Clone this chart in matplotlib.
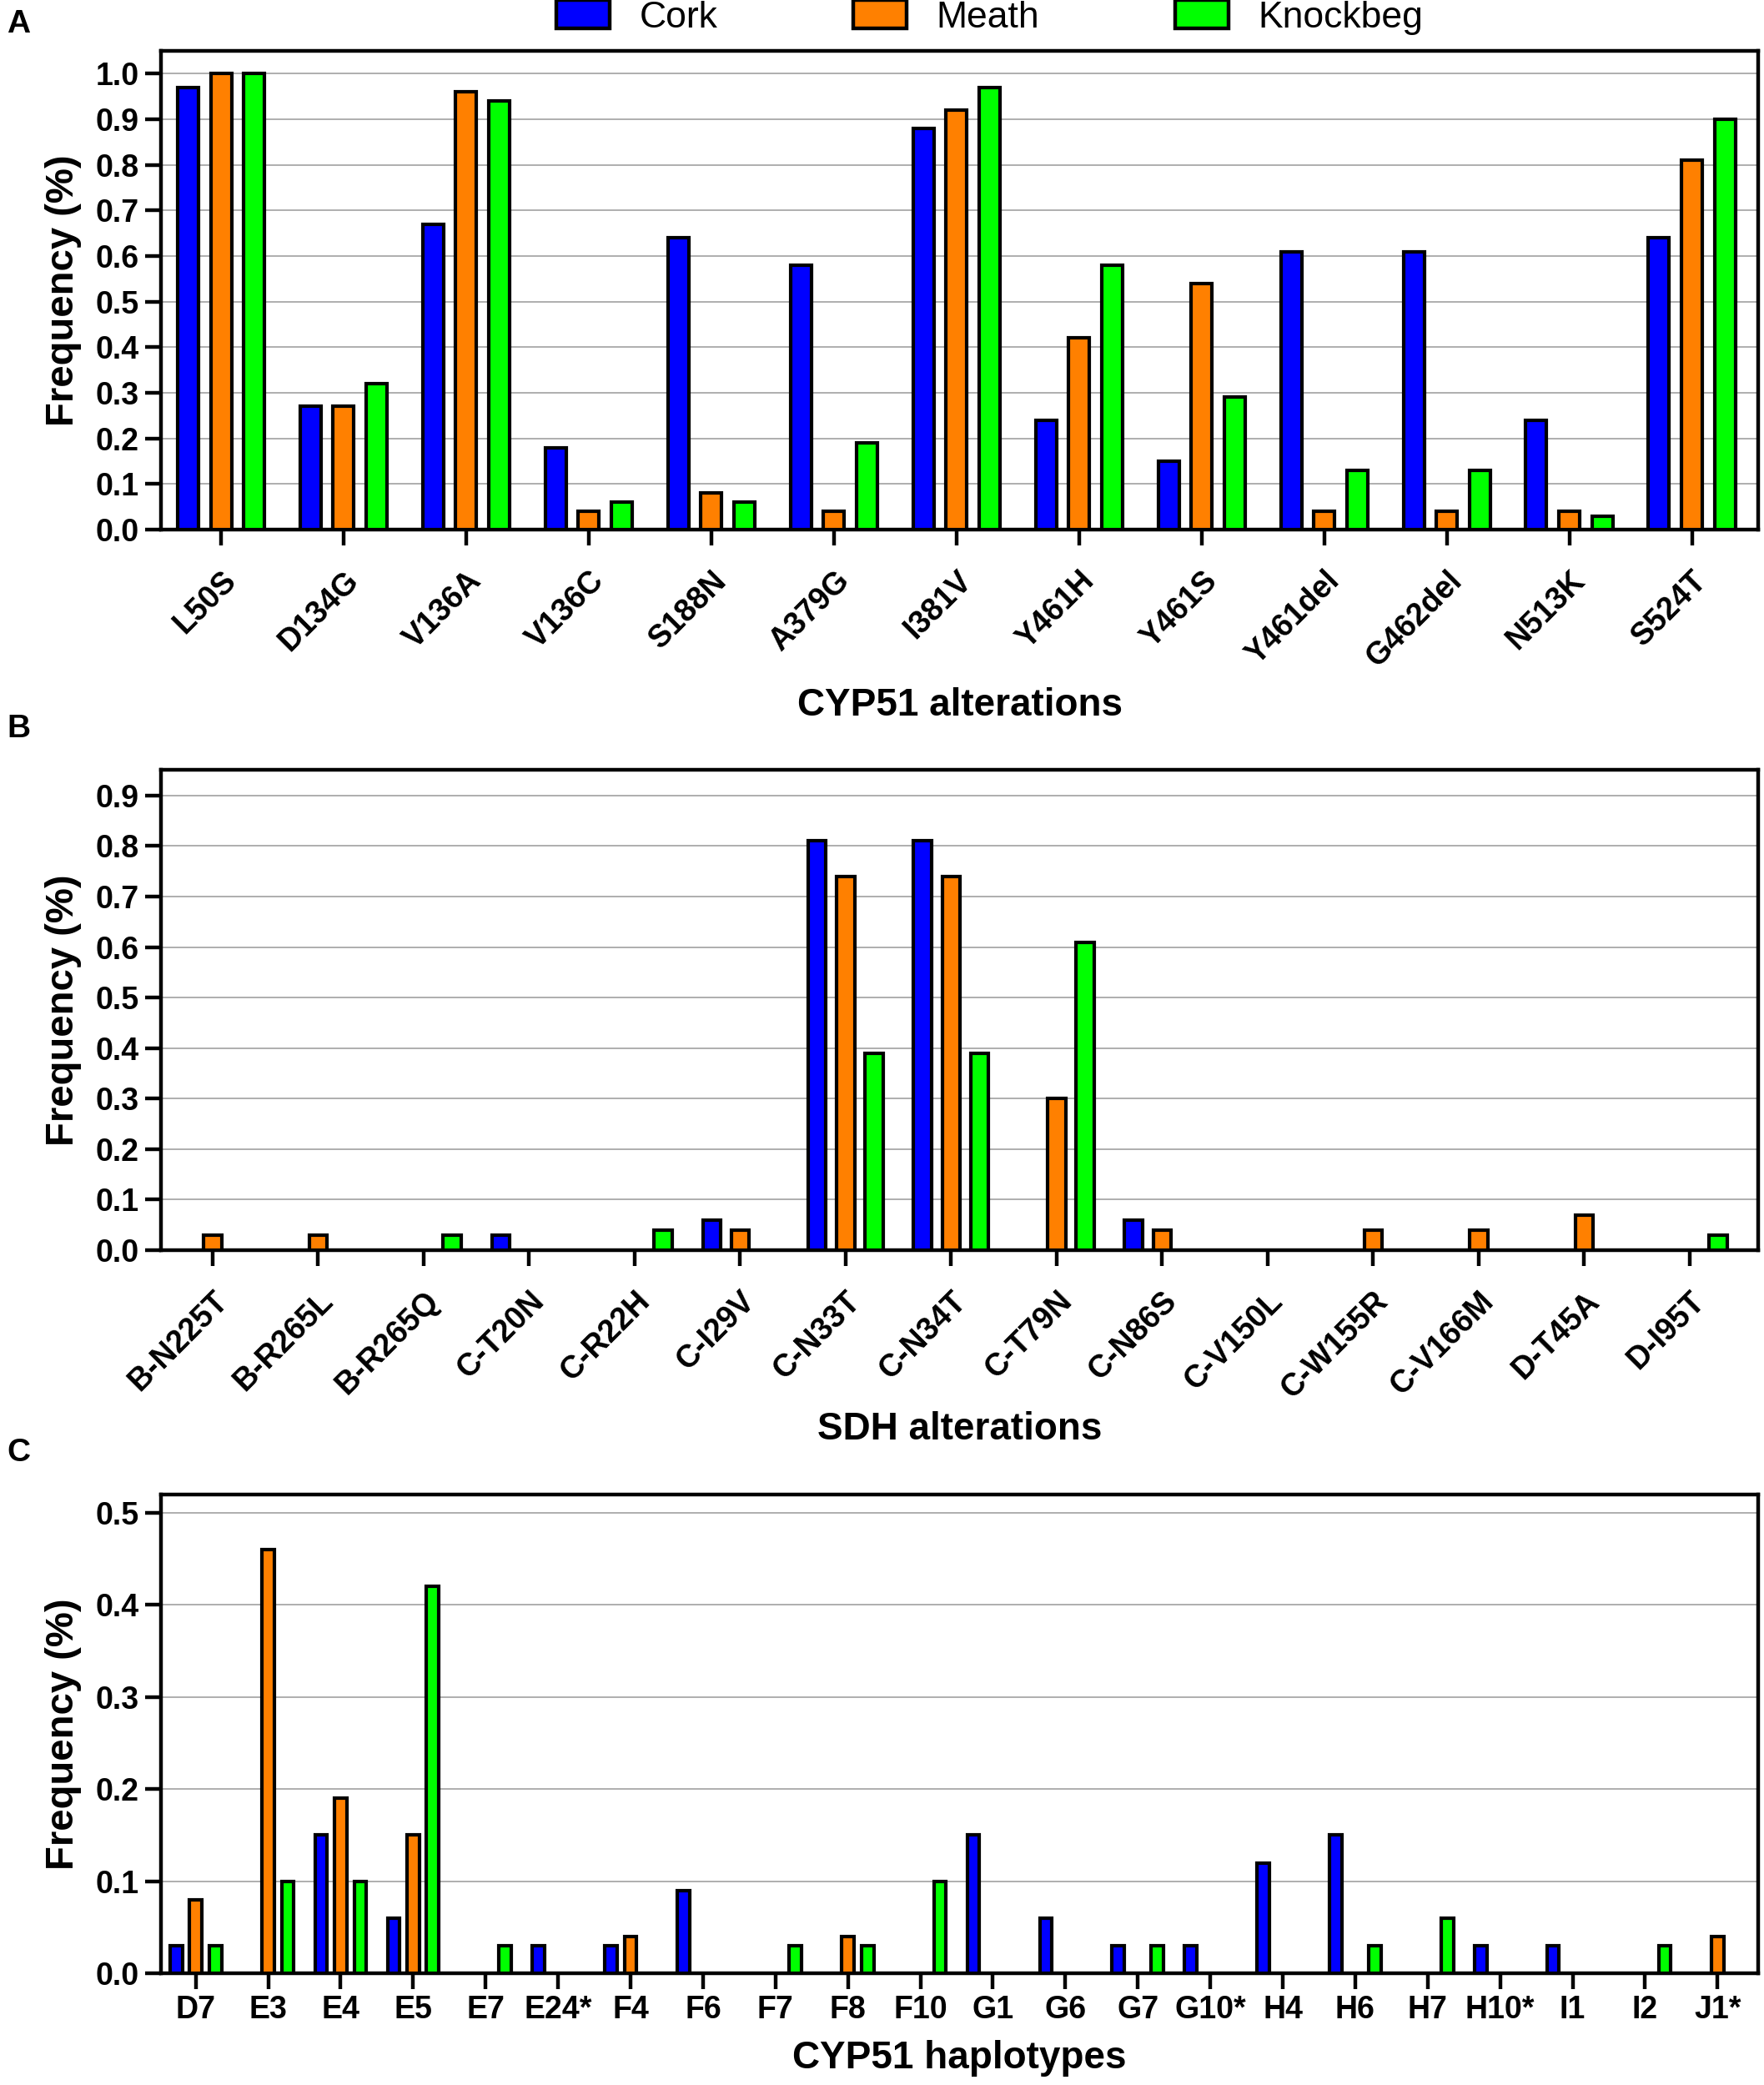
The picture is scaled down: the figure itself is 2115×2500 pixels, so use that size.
import numpy as np
import matplotlib
matplotlib.use("Agg")
import matplotlib.pyplot as plt
from matplotlib.ticker import FormatStrFormatter
from matplotlib.patches import Patch

plt.rcParams['font.family'] = ['Liberation Sans', 'DejaVu Sans']

sites = ["Cork", "Meath", "Knockbeg"]
colors = ["#0000FF", "#FF8000", "#00FF00"]

# panel A - CYP51 alterations
cyp_alt = ["L50S", "D134G", "V136A", "V136C", "S188N", "A379G", "I381V",
           "Y461H", "Y461S", "Y461del", "G462del", "N513K", "S524T"]
cyp_cork = [0.97, 0.27, 0.67, 0.18, 0.64, 0.58, 0.88, 0.24, 0.15, 0.61, 0.61, 0.24, 0.64]
cyp_meath = [1.00, 0.27, 0.96, 0.04, 0.08, 0.04, 0.92, 0.42, 0.54, 0.04, 0.04, 0.04, 0.81]
cyp_knock = [1.00, 0.32, 0.94, 0.06, 0.06, 0.19, 0.97, 0.58, 0.29, 0.13, 0.13, 0.03, 0.90]

# panel B - SDH alterations
sdh_alt = ["B-N225T", "B-R265L", "B-R265Q", "C-T20N", "C-R22H", "C-I29V", "C-N33T",
           "C-N34T", "C-T79N", "C-N86S", "C-V150L", "C-W155R", "C-V166M", "D-T45A", "D-I95T"]
sdh_cork = [0, 0, 0, 0.03, 0, 0.06, 0.81, 0.81, 0, 0.06, 0, 0, 0, 0, 0]
sdh_meath = [0.03, 0.03, 0, 0, 0, 0.04, 0.74, 0.74, 0.30, 0.04, 0, 0.04, 0.04, 0.07, 0]
sdh_knock = [0, 0, 0.03, 0, 0.04, 0, 0.39, 0.39, 0.61, 0, 0, 0, 0, 0, 0.03]

# panel C - CYP51 haplotypes
hap = ["D7", "E3", "E4", "E5", "E7", "E24*", "F4", "F6", "F7", "F8", "F10",
       "G1", "G6", "G7", "G10*", "H4", "H6", "H7", "H10*", "I1", "I2", "J1*"]
hap_cork = [0.03, 0, 0.15, 0.06, 0, 0.03, 0.03, 0.09, 0, 0, 0,
            0.15, 0.06, 0.03, 0.03, 0.12, 0.15, 0, 0.03, 0.03, 0, 0]
hap_meath = [0.08, 0.46, 0.19, 0.15, 0, 0, 0.04, 0, 0, 0.04, 0,
             0, 0, 0, 0, 0, 0, 0, 0, 0, 0, 0.04]
hap_knock = [0.03, 0.10, 0.10, 0.42, 0.03, 0, 0, 0, 0.03, 0.03, 0.10,
             0, 0, 0.03, 0, 0, 0.03, 0.06, 0, 0, 0.03, 0]

W, H = 2115, 2500
fig = plt.figure(figsize=(W / 100, H / 100), dpi=100)

def box(l, t, r, b):
    return [l / W, 1 - b / H, (r - l) / W, (b - t) / H]

lw_edge = 3.0
bw = 0.17
off = 0.27

def panel(rect, cats, vals, ymax, ntick, xlim, rot, xlab, xlab_y):
    ax = fig.add_axes(rect)
    x = np.arange(len(cats))
    for k in range(3):
        v = np.array(vals[k])
        m = v > 0
        ax.bar(x[m] + (k - 1) * off, v[m], width=bw, color=colors[k],
               edgecolor="black", linewidth=lw_edge, zorder=3)
    ax.set_xlim(*xlim)
    ax.set_ylim(0, ymax)
    ax.set_yticks(np.round(np.arange(ntick + 1) * 0.1, 1))
    ax.yaxis.set_major_formatter(FormatStrFormatter('%.1f'))
    ax.grid(axis="y", color="#a8a8a8", linewidth=1.3, zorder=0)
    ax.set_axisbelow(True)
    for s in ax.spines.values():
        s.set_linewidth(3.2)
    ax.tick_params(axis="both", direction="out", length=14, width=3.2,
                   labelsize=27, pad=5, top=False, right=False)
    ax.set_xticks(x)
    if rot:
        ax.set_xticklabels(cats, rotation=45, ha="right", va="top",
                           rotation_mode="anchor", fontweight="bold")
        ax.tick_params(axis="x", pad=17)
    else:
        ax.set_xticklabels(cats, fontweight="bold")
    for t in ax.get_yticklabels():
        t.set_fontweight("bold")
    ax.set_ylabel("Frequency (%)", fontsize=34, fontweight="bold", labelpad=12)
    ax.set_xlabel(xlab, fontsize=33, fontweight="bold")
    ax.xaxis.set_label_coords(0.5, xlab_y)
    return ax

axA = panel(box(193, 61, 2108, 635), cyp_alt, [cyp_cork, cyp_meath, cyp_knock],
            1.05, 10, (-0.49, 12.54), True, "CYP51 alterations", -0.33)
axB = panel(box(193, 923, 2108, 1499), sdh_alt, [sdh_cork, sdh_meath, sdh_knock],
            0.951, 9, (-0.49, 14.65), True, "SDH alterations", -0.335)
axC = panel(box(193, 1792, 2108, 2366), hap, [hap_cork, hap_meath, hap_knock],
            0.52, 5, (-0.48, 21.56), False, "CYP51 haplotypes", -0.14)

for lab, y in [("A", 29), ("B", 874), ("C", 1742)]:
    fig.text(22 / W, 1 - y / H, lab, fontsize=28, fontweight="bold",
             ha="center", va="center")

handles = [Patch(facecolor=c, edgecolor="black", linewidth=3.2) for c in colors]
fig.legend(handles, sites, loc="center", bbox_to_anchor=(0.561, 1 - 21 / H),
           ncol=3, frameon=False, fontsize=32, handlelength=1.45,
           handleheight=0.8, handletextpad=0.8, columnspacing=3.65,
           borderpad=0, borderaxespad=0)

fig.savefig("out.png", dpi=100)
